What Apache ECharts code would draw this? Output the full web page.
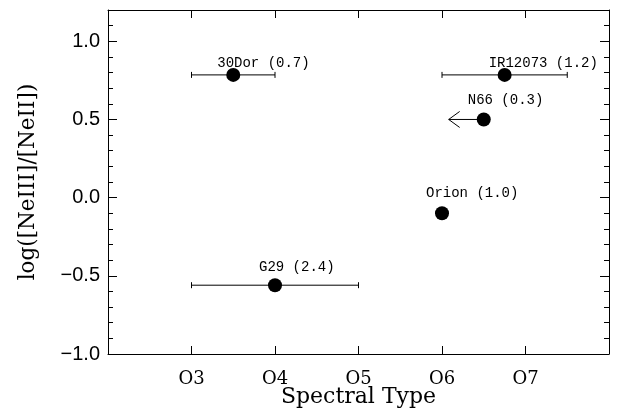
<!DOCTYPE html>
<html><head><meta charset="utf-8">
<script src="https://cdn.jsdelivr.net/npm/echarts@6/dist/echarts.min.js"></script>
<style>html,body{margin:0;padding:0;background:#fff}#c{width:620px;height:416px}</style>
</head><body><div id="c"></div>
<script>
// Data
const names   = ['30Dor', 'IR12073', 'N66', 'Orion', 'G29'];
const ratios  = ['0.7', '1.2', '0.3', '1.0', '2.4'];
const spType  = [3.5, 6.75, 6.5, 6.0, 4.0];
const logNe   = [0.785, 0.785, 0.5, -0.1, -0.56];
const errLow  = [3.0, 6.0, null, null, 3.0];
const errHigh = [4.0, 7.5, null, null, 5.0];
const limitTo = [null, null, 6.08, null, null];
const xTickLabels = {3: 'O3', 4: 'O4', 5: 'O5', 6: 'O6', 7: 'O7'};
const labelDy = [-12, -12, -19, -20, -18];

const serif = '"DejaVu Serif", "Liberation Serif", serif';
const mono = '"Liberation Mono", "DejaVu Sans Mono", monospace';

const errData = [], limData = [], ptData = [];
for (let i = 0; i < names.length; i++) {
  if (errLow[i] != null) errData.push([errLow[i], errHigh[i], logNe[i]]);
  if (limitTo[i] != null) limData.push([spType[i], limitTo[i], logNe[i]]);
  ptData.push({
    value: [spType[i], logNe[i]],
    label: {show: true, formatter: names[i] + ' (' + ratios[i] + ')', offset: [-16, labelDy[i]]}
  });
}

const chart = echarts.init(document.getElementById('c'));
const baseX = {type: 'value', min: 2, max: 8, interval: 1,
  axisLine: {show: true, onZero: false, lineStyle: {color: '#000', width: 1}},
  splitLine: {show: false}};
const baseY = {type: 'value', min: -1.0, max: 1.2, interval: 0.5,
  axisLine: {show: true, onZero: false, lineStyle: {color: '#000', width: 1}},
  splitLine: {show: false}};
chart.setOption({
  animation: false,
  grid: {left: 108, right: 11, top: 10, bottom: 62, outerBoundsMode: 'none', containLabel: false},
  xAxis: [
    Object.assign({}, baseX, {position: 'bottom',
      name: 'Spectral Type', nameLocation: 'middle', nameGap: 32, nameMoveOverlap: false,
      nameTextStyle: {fontFamily: serif, fontSize: 22, color: '#000'},
      axisTick: {inside: true, length: 8, lineStyle: {color: '#000'}},
      axisLabel: {margin: 16, fontFamily: serif, fontSize: 18, color: '#000',
        formatter: v => xTickLabels[v] || ''}}),
    Object.assign({}, baseX, {position: 'top',
      axisTick: {inside: true, length: 8, lineStyle: {color: '#000'}},
      axisLabel: {show: false}})
  ],
  yAxis: [
    Object.assign({}, baseY, {position: 'left',
      name: 'log([NeIII]/[NeII])', nameLocation: 'middle', nameGap: 69, nameMoveOverlap: false,
      nameTextStyle: {fontFamily: serif, fontSize: 21.5, color: '#000'},
      axisTick: {inside: true, length: 9, lineStyle: {color: '#000'}},
      minorTick: {show: true, splitNumber: 5, length: 5, lineStyle: {color: '#000'}},
      axisLabel: {margin: 8, fontFamily: '"Liberation Sans", Arial, sans-serif', fontSize: 20, color: '#000',
        formatter: v => (Math.abs(v - 1.2) < 1e-6) ? '' : (v < 0 ? '\u2212' + Math.abs(v).toFixed(1) : v.toFixed(1))}}),
    Object.assign({}, baseY, {position: 'right',
      axisTick: {inside: true, length: 9, lineStyle: {color: '#000'}},
      minorTick: {show: true, splitNumber: 5, length: 5, lineStyle: {color: '#000'}},
      axisLabel: {show: false}})
  ],
  series: [
    {
      type: 'custom', xAxisIndex: 0, yAxisIndex: 0, data: errData,
      renderItem: function (params, api) {
        const a = api.coord([api.value(0), api.value(2)]);
        const b = api.coord([api.value(1), api.value(2)]);
        const st = {stroke: '#000', lineWidth: 1};
        return {type: 'group', children: [
          {type: 'line', shape: {x1: a[0], y1: a[1], x2: b[0], y2: b[1]}, style: st},
          {type: 'line', shape: {x1: a[0], y1: a[1] - 3, x2: a[0], y2: a[1] + 3}, style: st},
          {type: 'line', shape: {x1: b[0], y1: b[1] - 3, x2: b[0], y2: b[1] + 3}, style: st}
        ]};
      }
    },
    {
      type: 'custom', xAxisIndex: 0, yAxisIndex: 0, data: limData,
      renderItem: function (params, api) {
        const a = api.coord([api.value(0), api.value(2)]);
        const b = api.coord([api.value(1), api.value(2)]);
        const st = {stroke: '#000', lineWidth: 1, fill: null};
        return {type: 'group', children: [
          {type: 'line', shape: {x1: a[0], y1: a[1], x2: b[0], y2: b[1]}, style: st},
          {type: 'polyline', shape: {points: [[b[0] + 11, b[1] - 8], [b[0], b[1]], [b[0] + 11, b[1] + 8]]}, style: st}
        ]};
      }
    },
    {
      type: 'scatter', xAxisIndex: 0, yAxisIndex: 0, symbol: 'circle', symbolSize: 14,
      itemStyle: {color: '#000', opacity: 1},
      label: {position: 'inside', align: 'left', verticalAlign: 'middle',
        fontFamily: mono, fontSize: 14, color: '#000'},
      data: ptData
    }
  ]
});
</script></body></html>
